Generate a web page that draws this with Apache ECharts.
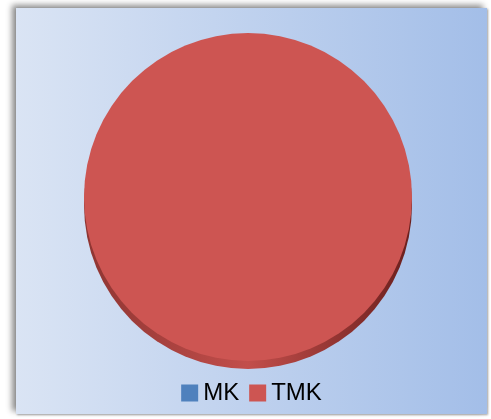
<!DOCTYPE html>
<html>
<head>
<meta charset="utf-8">
<script src="https://cdn.jsdelivr.net/npm/echarts@6/dist/echarts.min.js"></script>
<style>
  html, body { margin: 0; padding: 0; background: #fff; }
  #frame {
    position: absolute; left: 16px; top: 8px; width: 471px; height: 406px;
    box-shadow: -4px -3px 6px rgba(0,0,0,0.45), 1px 1px 2px rgba(0,0,0,0.35);
  }
  #chart { width: 471px; height: 406px; }
</style>
</head>
<body>
<div id="frame"><div id="chart"></div></div>
<script>
// 数据
const categories = ['MK', 'TMK']
const values = [0, 100]
const colors = ['#4F81BD', '#CD5552']

const myChart = echarts.init(document.getElementById('chart'))

const pieData = categories.map((name, i) => ({
  name, value: values[i], itemStyle: { color: colors[i] }
}))

// 侧面（3D 厚度）
const sideData = categories.map((name, i) => ({
  name: name + '_side', value: values[i],
  itemStyle: {
    color: new echarts.graphic.LinearGradient(0, 0, 1, 0, [
      { offset: 0, color: '#8E3532' },
      { offset: 0.5, color: '#C24E4B' },
      { offset: 1, color: '#6A1F1D' }
    ])
  }
}))

const option = {
  backgroundColor: new echarts.graphic.LinearGradient(0, 0, 1, 0, [
    { offset: 0, color: '#DAE4F4' },
    { offset: 1, color: '#A3BEE8' }
  ]),
  legend: {
    data: categories,
    bottom: 4,
    left: 'center',
    icon: 'rect',
    itemWidth: 17,
    itemHeight: 17,
    itemGap: 10,
    selectedMode: false,
    textStyle: { fontFamily: 'Liberation Sans', fontSize: 24, color: '#000' }
  },
  series: [
    {
      type: 'pie', radius: 164, center: [232, 197],
      data: sideData, label: { show: false }, labelLine: { show: false },
      silent: true, startAngle: 90, animation: false, z: 1
    },
    {
      type: 'pie', radius: 164, center: [232, 189],
      data: pieData, label: { show: false }, labelLine: { show: false },
      itemStyle: { borderWidth: 0 },
      startAngle: 90, animation: false, z: 2
    }
  ]
}
myChart.setOption(option)
window.onresize = () => { myChart.resize() }
</script>
</body>
</html>
